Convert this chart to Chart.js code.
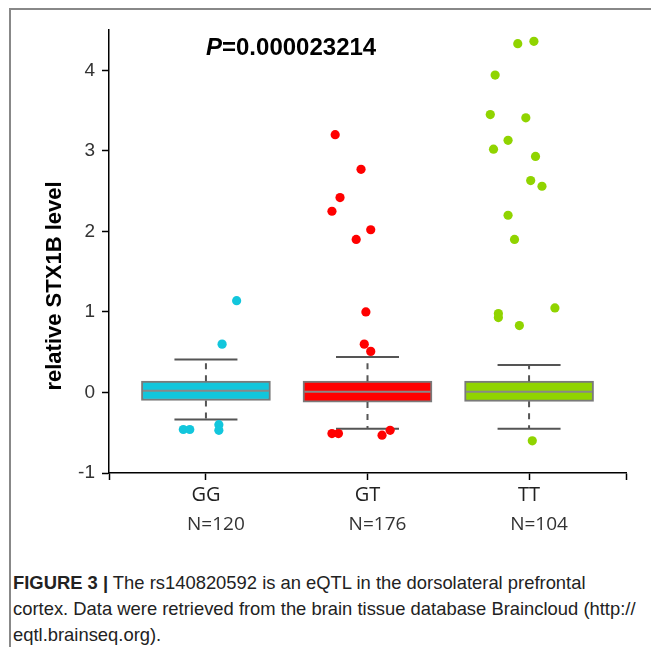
<!DOCTYPE html>
<html>
<head>
<meta charset="utf-8">
<script src="https://cdn.jsdelivr.net/npm/chart.js@4.4.1/dist/chart.umd.min.js"></script>
<style>
    body { margin: 0; background: #fff; width: 651px; height: 647px; overflow: hidden; position: relative; }
    .frame { position: absolute; left: 9px; top: 8px; width: 700px; height: 700px; border-top: 2px solid #888; border-left: 2px solid #888; }
    .chart-box { position: absolute; left: 0; top: 0; width: 651px; height: 545px; }
    .caption { position: absolute; left: 13px; top: 570px; width: 636px; white-space: nowrap; font-family: "Liberation Sans", Arial, sans-serif; font-size: 18.4px; line-height: 26px; color: #222; }
    .caption b { font-weight: bold; }
</style>
</head>
<body>
<div class="frame"></div>
<div class="chart-box"><canvas id="boxChart"></canvas></div>
<div class="caption"><b>FIGURE 3 |</b> The rs140820592 is an eQTL in the dorsolateral prefrontal<br>cortex. Data were retrieved from the brain tissue database Braincloud (http://<br>eqtl.brainseq.org).</div>

<script>
    const categories = ['GG', 'GT', 'TT'];
    const counts = ['N=120', 'N=176', 'N=104'];
    const colors = ['#12c6dc', '#ff0000', '#90d400'];

    const q1 = [-0.10, -0.12, -0.11];
    const median = [0.02, 0.01, 0.01];
    const q3 = [0.14, 0.14, 0.14];
    const whiskerLow = [-0.335, -0.45, -0.45];
    const whiskerHigh = [0.41, 0.44, 0.34];

    // outliers: horizontal jitter around the category + value
    const ggJitter = [0.19, 0.10, -0.14, -0.10, 0.08, 0.08];
    const ggValues = [1.14, 0.60, -0.46, -0.46, -0.40, -0.47];
    const gtJitter = [-0.01, -0.02, 0.02, -0.22, -0.18, 0.09, 0.14, -0.20, -0.04, -0.17, -0.22, 0.02, -0.07];
    const gtValues = [1.00, 0.60, 0.51, -0.51, -0.51, -0.53, -0.47, 3.20, 2.77, 2.42, 2.25, 2.02, 1.90];
    const ttJitter = [0.02, -0.19, -0.19, -0.06, 0.16, -0.13, -0.09, -0.07, 0.03, -0.21, -0.24, -0.02, -0.13, -0.22, 0.04, 0.01, 0.08];
    const ttValues = [-0.60, 0.98, 0.93, 0.83, 1.05, 2.20, 1.90, 4.33, 4.36, 3.94, 3.45, 3.41, 3.13, 3.02, 2.93, 2.63, 2.56];

    const jitters = [ggJitter, gtJitter, ttJitter];
    const values = [ggValues, gtValues, ttValues];

    const pValue = '0.000023214';

    const pointSets = categories.map((cat, i) => ({
        type: 'scatter',
        label: cat,
        data: values[i].map((v, k) => ({x: i + jitters[i][k], y: v})),
        backgroundColor: colors[i],
        borderWidth: 0,
        pointRadius: 4.6
    }));

    const medianSet = {
        type: 'scatter',
        data: categories.map((c, i) => ({x: i, y: median[i]})),
        pointStyle: 'line',
        pointRadius: 63,
        borderColor: '#888',
        borderWidth: 2
    };

    const capSet = {
        type: 'scatter',
        data: categories.flatMap((c, i) => [{x: i, y: whiskerLow[i]}, {x: i, y: whiskerHigh[i]}]),
        pointStyle: 'line',
        pointRadius: 31.5,
        borderColor: '#555',
        borderWidth: 2
    };

    const whiskerData = [];
    categories.forEach((c, i) => {
        whiskerData.push({x: i, y: q3[i]}, {x: i, y: whiskerHigh[i]}, {x: i, y: null});
        whiskerData.push({x: i, y: q1[i]}, {x: i, y: whiskerLow[i]}, {x: i, y: null});
    });
    const whiskerSet = {
        type: 'scatter',
        data: whiskerData,
        showLine: true,
        spanGaps: false,
        pointRadius: 0,
        borderColor: '#555',
        borderWidth: 2,
        borderDash: [6, 6]
    };

    const boxSet = {
        type: 'bar',
        data: categories.map((c, i) => ({x: i, y: [q1[i], q3[i]]})),
        backgroundColor: colors,
        borderColor: '#7a7a7a',
        borderWidth: 2,
        borderSkipped: false,
        barThickness: 129
    };

    const labelsPlugin = {
        id: 'labelsPlugin',
        afterDraw(chart) {
            const ctx = chart.ctx;
            ctx.save();
            ctx.fillStyle = '#000';
            ctx.textBaseline = 'alphabetic';
            ctx.textAlign = 'left';
            ctx.font = 'italic bold 24px "Liberation Sans", Arial, sans-serif';
            const px = 206;
            ctx.fillText('P', px, 55);
            const w = ctx.measureText('P').width;
            ctx.font = 'bold 24px "Liberation Sans", Arial, sans-serif';
            ctx.fillText('=' + pValue, px + w, 55);

            ctx.translate(55, 286);
            ctx.rotate(-Math.PI / 2);
            ctx.textAlign = 'center';
            ctx.textBaseline = 'middle';
            ctx.font = 'bold 22px "Liberation Sans", Arial, sans-serif';
            ctx.fillText('relative STX1B level', 0, 0);
            ctx.restore();
        }
    };

    new Chart(document.getElementById('boxChart'), {
        type: 'scatter',
        data: {
            datasets: [...pointSets, medianSet, capSet, whiskerSet, boxSet]
        },
        options: {
            responsive: true,
            maintainAspectRatio: false,
            animation: false,
            layout: {autoPadding: false, padding: {left: 0, right: 25, top: 30, bottom: 0}},
            plugins: {
                legend: {display: false},
                tooltip: {enabled: false},
                title: {display: false}
            },
            scales: {
                x: {
                    type: 'linear',
                    min: -0.6,
                    max: 2.6,
                    offset: false,
                    afterBuildTicks: scale => {
                        scale.ticks = [-0.6, 0, 1, 2, 2.6].map(v => ({value: v}));
                    },
                    afterFit: scale => { scale.height = 40; },
                    border: {color: '#000', width: 1.5},
                    grid: {drawOnChartArea: false, offset: false, tickLength: 7, tickColor: '#000', tickWidth: 1.5},
                    ticks: {
                        padding: 3,
                        maxRotation: 0,
                        autoSkip: false,
                        color: '#222',
                        font: {family: '"Open Sans", sans-serif', size: 20},
                        callback: v => Number.isInteger(v) ? categories[v] : ''
                    }
                },
                x2: {
                    type: 'linear',
                    position: 'bottom',
                    min: -0.6,
                    max: 2.6,
                    offset: false,
                    afterBuildTicks: scale => {
                        scale.ticks = [0, 1, 2].map(v => ({value: v}));
                    },
                    afterFit: scale => { scale.height = 32; },
                    border: {display: false},
                    grid: {display: false, drawTicks: false},
                    ticks: {
                        padding: 0,
                        labelOffset: 10,
                        maxRotation: 0,
                        autoSkip: false,
                        color: '#333',
                        font: {family: '"Open Sans", sans-serif', size: 19},
                        callback: v => counts[v]
                    }
                },
                y: {
                    type: 'linear',
                    min: -1,
                    max: 4.5,
                    afterFit: scale => { scale.width = 109; },
                    border: {color: '#000', width: 1.5},
                    grid: {drawOnChartArea: false, tickLength: 7, tickColor: '#000', tickWidth: 1.5},
                    ticks: {
                        stepSize: 1,
                        includeBounds: false,
                        padding: 7,
                        color: '#333',
                        font: {family: '"Liberation Sans", Arial, sans-serif', size: 19}
                    }
                }
            }
        },
        plugins: [labelsPlugin]
    });
</script>
</body>
</html>
